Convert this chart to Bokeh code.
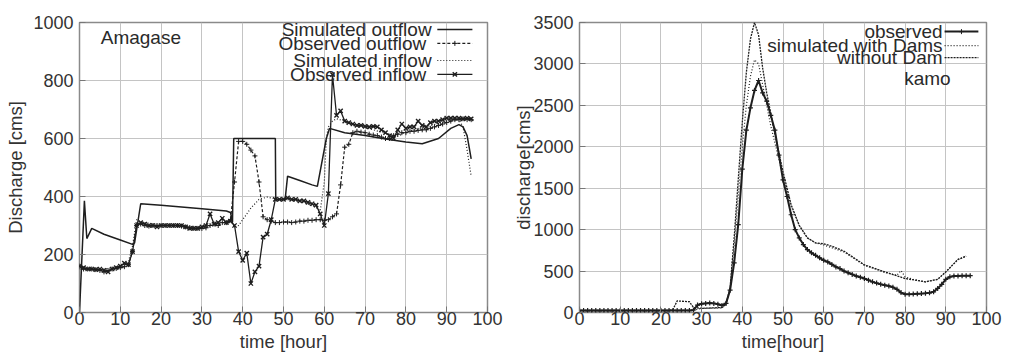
from bokeh.plotting import figure
from bokeh.models import Label, Range1d, SingleIntervalTicker
from bokeh.layouts import row
from bokeh.embed import file_html
from bokeh.resources import INLINE

FONT = "Liberation Sans"
INK = "#1e1e1e"

# ---------------- Amagase data ----------------
hours = list(range(97))
amagase_obs_outflow = [160, 150, 150, 150, 148, 145, 140, 145, 150, 152, 155, 158, 165, 210, 300, 305, 300, 298, 300, 300,
                       300, 300, 300, 300, 300, 298, 295, 292, 290, 290, 290, 292, 300, 305, 300, 310, 310, 320, 450, 590,
                       590, 580, 560, 540, 450, 330, 320, 315, 310, 310, 312, 312, 310, 312, 315, 315, 318, 318, 320, 320,
                       318, 320, 330, 340, 440, 570, 580, 620, 625, 622, 620, 615, 612, 610, 605, 600, 600, 610, 615, 620,
                       620, 625, 625, 628, 630, 630, 635, 640, 645, 650, 655, 660, 665, 665, 668, 665, 665]
amagase_obs_inflow = [160, 155, 150, 150, 148, 150, 145, 140, 150, 155, 160, 170, 165, 210, 300, 310, 305, 300, 300, 295,
                      300, 300, 300, 300, 300, 300, 295, 290, 290, 290, 295, 300, 340, 305, 310, 325, 310, 315, 300, 210,
                      180, 205, 100, 140, 160, 260, 270, 320, 390, 390, 390, 395, 390, 390, 385, 385, 380, 375, 370, 340,
                      300, 410, 820, 680, 695, 660, 655, 650, 645, 645, 642, 640, 642, 640, 630, 620, 610, 600, 630, 650,
                      635, 640, 640, 660, 645, 640, 655, 660, 660, 665, 670, 670, 670, 670, 668, 670, 668]
amagase_sim_out_t = [0, 1.2, 1.8, 3, 6, 10, 13, 13.5, 15, 20, 30, 36, 37, 37.5, 37.8, 48, 48.1, 50.4, 51, 54, 57, 58.3,
                     60.5, 61.3, 65, 70, 75, 80, 84, 88, 91, 93, 94, 95, 95.5, 96]
amagase_sim_out_v = [0, 385, 255, 290, 270, 250, 235, 240, 375, 370, 358, 350, 345, 310, 600, 600, 390, 390, 470, 455,
                     440, 435, 600, 635, 620, 610, 598, 588, 582, 600, 635, 648, 640, 610, 570, 530]
amagase_sim_in_t = [0, 5, 10, 12, 13, 14, 15, 20, 25, 30, 35, 37, 38, 39, 40, 42, 44, 46, 48, 50, 52, 55, 58, 59, 60,
                    60.5, 61, 62, 63, 65, 67, 70, 75, 78, 80, 85, 90, 93, 94, 95, 96]
amagase_sim_in_v = [150, 148, 158, 175, 230, 320, 312, 302, 300, 295, 310, 320, 295, 300, 320, 360, 390, 398, 392, 390,
                    388, 380, 362, 350, 450, 600, 640, 660, 668, 660, 645, 638, 618, 608, 622, 640, 660, 665, 640, 560,
                    470]

# ---------------- Kamo data ----------------
kamo_observed = [25, 25, 25, 25, 25, 25, 25, 25, 25, 25, 25, 25, 25, 25, 25, 25, 25, 25, 25, 25,
                 25, 25, 25, 25, 25, 25, 25, 25, 30, 90, 105, 110, 115, 110, 100, 85, 110, 270, 600, 1060,
                 1730, 2200, 2470, 2680, 2800, 2650, 2550, 2380, 2200, 1900, 1600, 1400, 1180, 1000, 900, 820, 760, 720, 690, 660,
                 630, 610, 580, 550, 530, 500, 480, 460, 440, 425, 410, 390, 370, 355, 340, 330, 320, 305, 280, 240,
                 220, 220, 222, 225, 228, 232, 238, 250, 290, 340, 400, 430, 440, 440, 445, 445, 445]
kamo_nodam_t = [0, 22, 23, 24, 27, 28, 30, 35, 36, 37, 38, 39, 40, 41, 42, 43, 44, 45, 46, 47, 48, 50, 52, 54, 56, 58,
                60, 62, 65, 70, 75, 80, 85, 88, 90, 93, 95]
kamo_nodam_v = [20, 20, 40, 140, 130, 60, 50, 60, 100, 300, 900, 1600, 2300, 2900, 3300, 3500, 3350, 2950, 2650, 2400,
                2150, 1700, 1300, 1050, 900, 840, 830, 800, 740, 575, 490, 410, 370, 400, 490, 640, 680]
kamo_dams_t = [0, 28, 29, 30, 35, 36, 37, 38, 39, 40, 41, 42, 43, 44, 45, 46, 47, 48, 50, 52, 54, 56, 58, 60, 65, 70,
               75, 78, 79, 80, 82, 85, 88, 90, 93, 95]
kamo_dams_v = [20, 20, 40, 50, 55, 100, 300, 800, 1400, 2000, 2500, 2850, 3050, 3000, 2750, 2500, 2250, 2050, 1650,
               1280, 1050, 900, 840, 815, 730, 570, 485, 450, 505, 430, 400, 370, 400, 490, 640, 680]


def style(p, xlabel, ylabel, ytick, y_label_standoff):
    p.x_range = Range1d(0, 100)
    p.xaxis.ticker = SingleIntervalTicker(interval=10)
    p.yaxis.ticker = SingleIntervalTicker(interval=ytick)
    p.xaxis.axis_label = xlabel
    p.yaxis.axis_label = ylabel
    p.grid.grid_line_color = "#c4c4c4"
    p.grid.grid_line_width = 1
    p.outline_line_color = "#8a8a8a"
    p.outline_line_width = 1.5
    p.background_fill_color = "white"
    p.border_fill_color = "white"
    for ax in p.axis:
        ax.axis_line_color = None
        ax.major_tick_in = 6
        ax.major_tick_out = 0
        ax.major_tick_line_color = "#777777"
        ax.minor_tick_line_color = None
        ax.major_label_text_font = FONT
        ax.major_label_text_font_size = "18px"
        ax.major_label_text_color = "#333333"
        ax.axis_label_text_font = FONT
        ax.axis_label_text_font_size = "18.5px"
        ax.axis_label_text_font_style = "normal"
        ax.axis_label_text_color = "#333333"
    p.xaxis.major_label_standoff = -5
    p.xaxis.axis_label_standoff = 3
    p.yaxis.major_label_standoff = 2
    p.yaxis.axis_label_standoff = y_label_standoff


def legend_text(p, x, y, text):
    p.add_layout(Label(x=x, y=y, text=text, text_align="right", text_baseline="middle",
                       text_font=FONT, text_font_size="19px", text_color="#2a2a2a"))


# ---------------- Left: Amagase ----------------
p1 = figure(frame_width=408, frame_height=290, output_backend="svg", toolbar_location=None,
            min_border_left=79, min_border_right=23, min_border_top=22, min_border_bottom=10)
p1.y_range = Range1d(0, 1000)
style(p1, "time [hour]", "Discharge [cms]", 200, 4)

p1.line(amagase_sim_out_t, amagase_sim_out_v, line_color=INK, line_width=1.5)
p1.line(hours, amagase_obs_outflow, line_color=INK, line_width=1.2, line_dash="3 2")
p1.scatter(hours, amagase_obs_outflow, marker="cross", size=5, line_color=INK, line_width=1)
p1.line(amagase_sim_in_t, amagase_sim_in_v, line_color=INK, line_width=1.2, line_dash="1 2")
p1.line(hours, amagase_obs_inflow, line_color=INK, line_width=1.3)
p1.scatter(hours, amagase_obs_inflow, marker="x", size=6, line_color=INK, line_width=1.4)

p1.add_layout(Label(x=5.2, y=983, text="Amagase", text_align="left", text_baseline="top",
                    text_font=FONT, text_font_size="19px", text_color="#2a2a2a"))
lx0, lx1, lxt = 87.7, 96.3, 86.3
rows1 = [976, 928, 869, 821]
legend_text(p1, lxt, rows1[0], "Simulated outflow")
legend_text(p1, lxt, rows1[1], "Observed  outflow")
legend_text(p1, lxt, rows1[2], "Simulated inflow")
legend_text(p1, lxt, rows1[3], "Observed  inflow")
p1.line([lx0, lx1], [rows1[0]] * 2, line_color=INK, line_width=1.5)
p1.line([lx0, lx1], [rows1[1]] * 2, line_color=INK, line_width=1.2, line_dash="3 2")
p1.scatter([(lx0 + lx1) / 2], [rows1[1]], marker="cross", size=5, line_color=INK)
p1.line([lx0, lx1], [rows1[2]] * 2, line_color=INK, line_width=1.2, line_dash="1 2")
p1.line([lx0, lx1], [rows1[3]] * 2, line_color=INK, line_width=1.3)
p1.scatter([(lx0 + lx1) / 2], [rows1[3]], marker="x", size=6, line_color=INK, line_width=1.4)

# ---------------- Right: Kamo ----------------
p2 = figure(frame_width=407, frame_height=290, output_backend="svg", toolbar_location=None,
            min_border_left=69, min_border_right=20, min_border_top=22, min_border_bottom=10)
p2.y_range = Range1d(0, 3500)
style(p2, "time[hour]", "discharge[cms]", 500, -4)

p2.line(kamo_nodam_t, kamo_nodam_v, line_color=INK, line_width=1.3, line_dash="2 1")
p2.line(kamo_dams_t, kamo_dams_v, line_color=INK, line_width=1.2, line_dash="1 2")
p2.line(hours, kamo_observed, line_color=INK, line_width=2)
p2.scatter(hours, kamo_observed, marker="cross", size=5, line_color=INK, line_width=1.2)

rx0, rx1, rxt = 89.7, 98.0, 89.2
rows2 = [3390, 3220, 3075]
legend_text(p2, rxt, rows2[0], "observed")
legend_text(p2, rxt, rows2[1], "simulated with Dams")
legend_text(p2, rxt, rows2[2], "without Dam")
legend_text(p2, 91.2, 2820, "kamo")
p2.line([rx0, rx1], [rows2[0]] * 2, line_color=INK, line_width=2)
p2.scatter([(rx0 + rx1) / 2], [rows2[0]], marker="cross", size=5, line_color=INK)
p2.line([rx0, rx1], [rows2[1]] * 2, line_color=INK, line_width=1.2, line_dash="1 2")
p2.line([rx0, rx1], [rows2[2]] * 2, line_color=INK, line_width=1.3, line_dash="2 1")

layout = row(p1, p2, spacing=0)
open("out.html", "w").write(file_html(layout, INLINE))
